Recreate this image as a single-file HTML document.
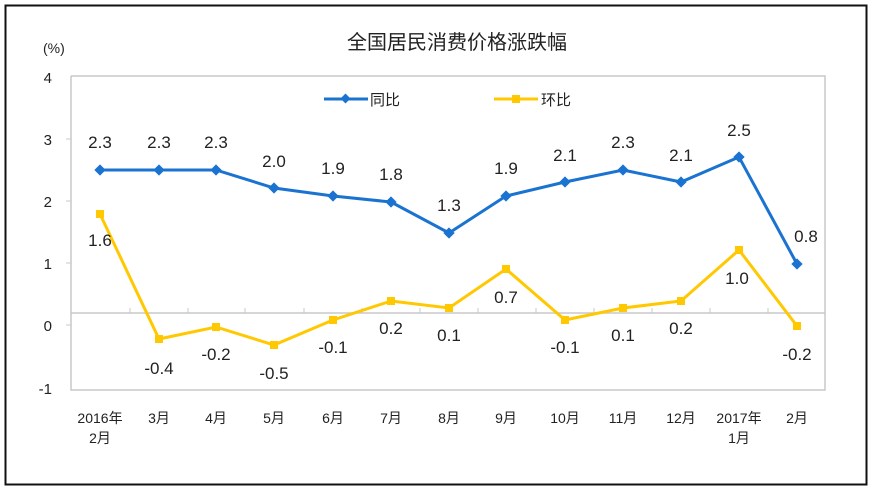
<!DOCTYPE html>
<html><head><meta charset="utf-8"><style>
body{margin:0;background:#fff;}
svg text{font-family:"Liberation Sans","Noto Sans CJK SC",sans-serif;fill:#222;}
</style></head><body>
<svg width="870" height="498" viewBox="0 0 870 498" xmlns="http://www.w3.org/2000/svg">
<rect x="0" y="0" width="870" height="498" fill="#fff"/>
<rect x="5.5" y="5.5" width="861" height="479" fill="none" stroke="#111" stroke-width="2"/>
<text x="457" y="49" font-size="20" text-anchor="middle">全国居民消费价格涨跌幅</text>
<text x="43" y="53" font-size="14">(%)</text>
<polyline points="71,76 825,76 825,390 71,390 71,76" fill="none" stroke="#c8c8c8" stroke-width="1.5"/>
<g stroke="#c8c8c8" stroke-width="1">
<line x1="66" y1="139" x2="71" y2="139"/><line x1="66" y1="201" x2="71" y2="201"/>
<line x1="66" y1="263" x2="71" y2="263"/><line x1="66" y1="325" x2="71" y2="325"/>
<line x1="71" y1="313" x2="825" y2="313" stroke-width="1.5"/>
<line x1="130" y1="308" x2="130" y2="313"/><line x1="188" y1="308" x2="188" y2="313"/>
<line x1="245" y1="308" x2="245" y2="313"/><line x1="304" y1="308" x2="304" y2="313"/>
<line x1="362" y1="308" x2="362" y2="313"/><line x1="420" y1="308" x2="420" y2="313"/>
<line x1="478" y1="308" x2="478" y2="313"/><line x1="536" y1="308" x2="536" y2="313"/>
<line x1="594" y1="308" x2="594" y2="313"/><line x1="652" y1="308" x2="652" y2="313"/>
<line x1="710" y1="308" x2="710" y2="313"/><line x1="768" y1="308" x2="768" y2="313"/>
</g>
<g font-size="15" text-anchor="end">
<text x="52" y="83">4</text><text x="52" y="145">3</text><text x="52" y="207">2</text>
<text x="52" y="269">1</text><text x="52" y="331">0</text><text x="52" y="394">-1</text>
</g>
<g font-size="14" text-anchor="middle">
<text x="100" y="423">2016年</text><text x="100" y="443">2月</text>
<text x="159" y="423">3月</text><text x="216" y="423">4月</text><text x="274" y="423">5月</text>
<text x="333" y="423">6月</text><text x="391" y="423">7月</text><text x="449" y="423">8月</text>
<text x="506" y="423">9月</text><text x="565" y="423">10月</text><text x="623" y="423">11月</text>
<text x="681" y="423">12月</text><text x="739" y="423">2017年</text><text x="739" y="443">1月</text>
<text x="797" y="423">2月</text>
</g>
<line x1="324" y1="99" x2="368" y2="99" stroke="#1a73d1" stroke-width="3"/>
<rect x="342" y="95" width="7" height="7" fill="#1a73d1" transform="rotate(45 345.5 98.5)"/>
<text x="370" y="105" font-size="15">同比</text>
<line x1="494" y1="99" x2="538" y2="99" stroke="#ffc800" stroke-width="3"/>
<rect x="512" y="95" width="8" height="8" fill="#ffc800"/>
<text x="541" y="105" font-size="15">环比</text>
<polyline fill="none" stroke="#1a73d1" stroke-width="3" points="100,170 159,170 216,170 274,188 333,196 391,202 449,233 506,196 565,182 623,170 681,182 739,157 797,264"/>
<g fill="#1a73d1">
<rect x="96" y="166" width="8" height="8" transform="rotate(45 100 170)"/>
<rect x="155" y="166" width="8" height="8" transform="rotate(45 159 170)"/>
<rect x="212" y="166" width="8" height="8" transform="rotate(45 216 170)"/>
<rect x="270" y="184" width="8" height="8" transform="rotate(45 274 188)"/>
<rect x="329" y="192" width="8" height="8" transform="rotate(45 333 196)"/>
<rect x="387" y="198" width="8" height="8" transform="rotate(45 391 202)"/>
<rect x="445" y="229" width="8" height="8" transform="rotate(45 449 233)"/>
<rect x="502" y="192" width="8" height="8" transform="rotate(45 506 196)"/>
<rect x="561" y="178" width="8" height="8" transform="rotate(45 565 182)"/>
<rect x="619" y="166" width="8" height="8" transform="rotate(45 623 170)"/>
<rect x="677" y="178" width="8" height="8" transform="rotate(45 681 182)"/>
<rect x="735" y="153" width="8" height="8" transform="rotate(45 739 157)"/>
<rect x="793" y="260" width="8" height="8" transform="rotate(45 797 264)"/>
</g>
<polyline fill="none" stroke="#ffc800" stroke-width="3" points="100,214 159,339 216,327 274,345 333,320 391,301 449,308 506,269 565,320 623,308 681,301 739,250 797,326"/>
<g fill="#ffc800">
<rect x="96" y="210" width="8" height="8"/><rect x="155" y="335" width="8" height="8"/>
<rect x="212" y="323" width="8" height="8"/><rect x="270" y="341" width="8" height="8"/>
<rect x="329" y="316" width="8" height="8"/><rect x="387" y="297" width="8" height="8"/>
<rect x="445" y="304" width="8" height="8"/><rect x="502" y="265" width="8" height="8"/>
<rect x="561" y="316" width="8" height="8"/><rect x="619" y="304" width="8" height="8"/>
<rect x="677" y="297" width="8" height="8"/><rect x="735" y="246" width="8" height="8"/>
<rect x="793" y="322" width="8" height="8"/>
</g>
<g font-size="17" text-anchor="middle">
<text x="100" y="148">2.3</text><text x="159" y="148">2.3</text><text x="216" y="148">2.3</text>
<text x="274" y="167">2.0</text><text x="333" y="174">1.9</text><text x="391" y="180">1.8</text>
<text x="449" y="211">1.3</text><text x="506" y="174">1.9</text><text x="565" y="161">2.1</text>
<text x="623" y="148">2.3</text><text x="681" y="161">2.1</text><text x="739" y="136">2.5</text>
<text x="806" y="242">0.8</text>
<text x="100" y="246">1.6</text><text x="159" y="374">-0.4</text><text x="216" y="360">-0.2</text>
<text x="274" y="379">-0.5</text><text x="333" y="353">-0.1</text><text x="391" y="334">0.2</text>
<text x="449" y="341">0.1</text><text x="506" y="303">0.7</text><text x="565" y="353">-0.1</text>
<text x="623" y="341">0.1</text><text x="681" y="334">0.2</text><text x="737" y="284">1.0</text>
<text x="797" y="360">-0.2</text>
</g>
</svg>
</body></html>
